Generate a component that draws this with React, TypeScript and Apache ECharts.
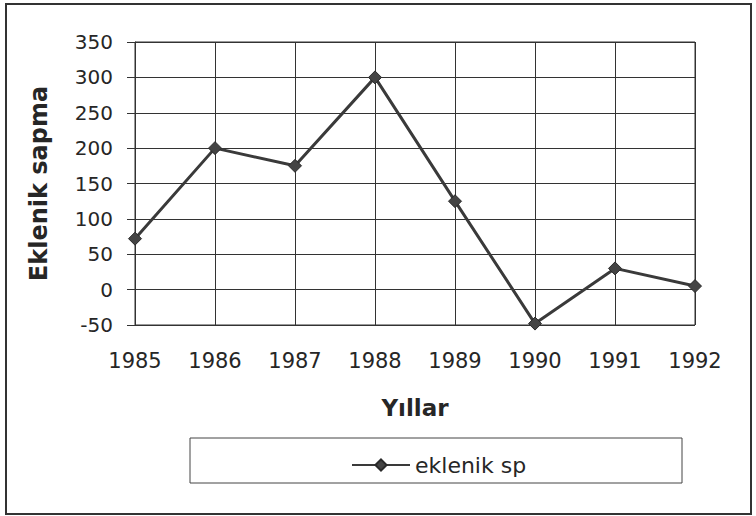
import React, { useEffect, useRef } from "react";
import * as echarts from "echarts";

const years = ["1985", "1986", "1987", "1988", "1989", "1990", "1991", "1992"];
const values = [72, 200, 175, 300, 125, -48, 30, 5];
const seriesName = "eklenik sp";
const yAxisTitle = "Eklenik sapma";
const xAxisTitle = "Yıllar";

const FONT = "'DejaVu Sans', 'Liberation Sans', Arial, sans-serif";

export default function App() {
  const ref = useRef<HTMLDivElement>(null);
  useEffect(() => {
    document.body.style.margin = "0";
    const chart = echarts.init(ref.current!, null, { renderer: "svg" });
    const ink = "#262626";
    chart.setOption({
      animation: false,
      backgroundColor: "#ffffff",
      textStyle: { fontFamily: FONT, color: ink },
      grid: {
        left: 135,
        top: 42,
        right: 61,
        bottom: 191,
        show: true,
        borderColor: "#333",
        borderWidth: 1,
      },
      graphic: [
        {
          type: "rect",
          shape: { x: 6, y: 4, width: 745, height: 510 },
          style: { fill: "none", stroke: "#333", lineWidth: 2 },
          silent: true,
        },
        {
          type: "rect",
          shape: { x: 190, y: 438, width: 492, height: 45 },
          style: { fill: "none", stroke: "#444", lineWidth: 1 },
          silent: true,
        },
      ],
      legend: {
        left: 346,
        top: 449,
        itemWidth: 58,
        itemHeight: 14,
        itemGap: 6,
        data: [seriesName],
        textStyle: { fontSize: 22, color: ink, fontFamily: FONT },
      },
      xAxis: {
        type: "category",
        data: years,
        boundaryGap: false,
        name: xAxisTitle,
        nameLocation: "middle",
        nameGap: 71,
        nameTextStyle: { fontSize: 23, fontWeight: "bold", color: ink, fontFamily: FONT },
        axisLine: { lineStyle: { color: "#333", width: 1 } },
        axisTick: { show: false },
        axisLabel: { fontSize: 21, color: ink, margin: 25, fontFamily: FONT },
        splitLine: { show: true, lineStyle: { color: "#333", width: 1 } },
      },
      yAxis: {
        type: "value",
        min: -50,
        max: 350,
        interval: 50,
        name: yAxisTitle,
        nameLocation: "middle",
        nameGap: 84,
        nameTextStyle: { fontSize: 24, fontWeight: "bold", color: ink, fontFamily: FONT },
        axisLine: { show: true, lineStyle: { color: "#333", width: 1 } },
        axisTick: { show: true, length: 8, inside: false, lineStyle: { color: "#333" } },
        axisLabel: { fontSize: 20, color: ink, margin: 22, fontFamily: FONT },
        splitLine: { show: true, lineStyle: { color: "#333", width: 1 } },
      },
      series: [
        {
          name: seriesName,
          type: "line",
          data: values,
          symbol: "diamond",
          symbolSize: 13,
          lineStyle: { color: "#3a3a3a", width: 3 },
          itemStyle: { color: "#444", borderColor: "#2a2a2a", borderWidth: 1 },
        },
      ],
    });
    return () => chart.dispose();
  }, []);
  return (
    <div
      ref={ref}
      style={{ position: "absolute", left: 0, top: 0, width: 756, height: 516 }}
    />
  );
}
